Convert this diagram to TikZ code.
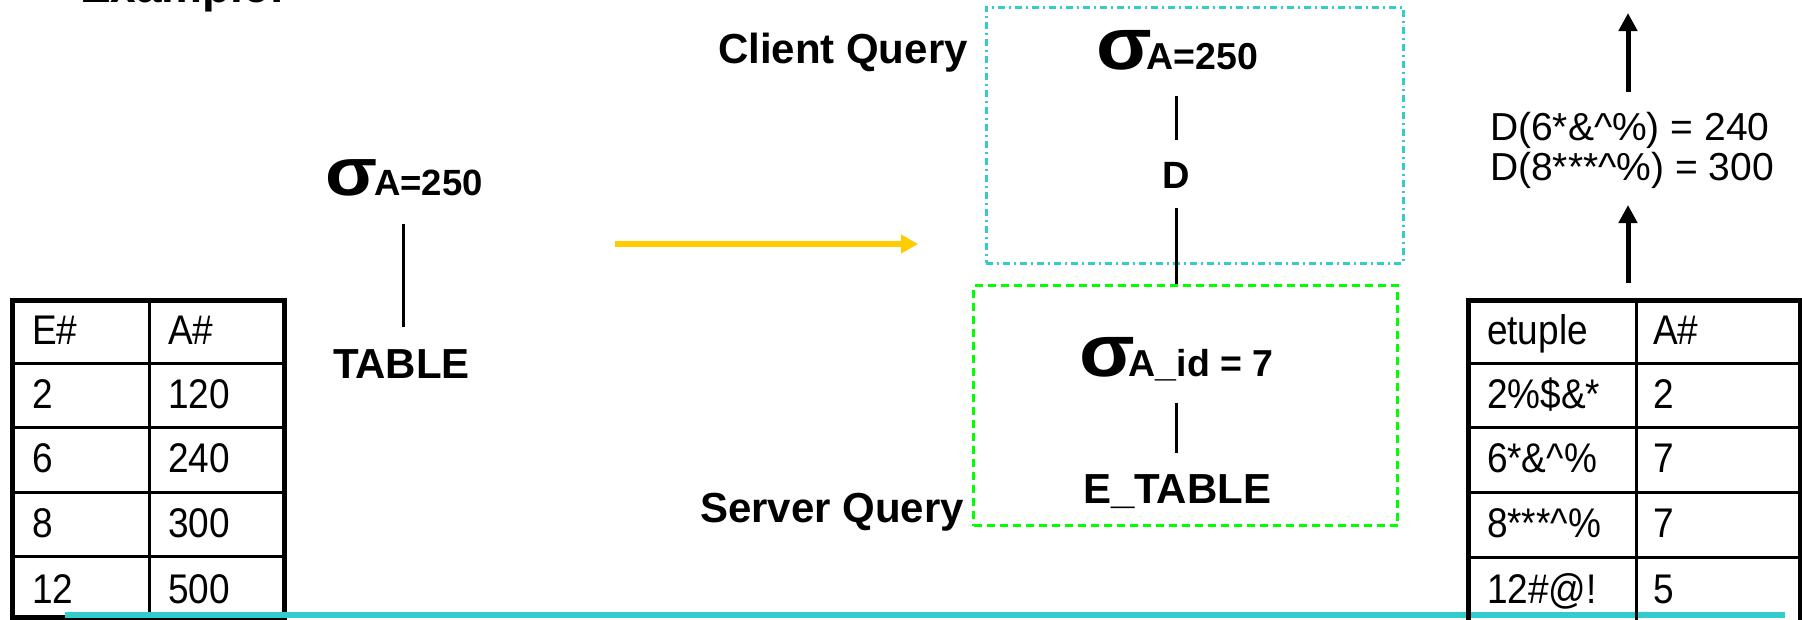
\documentclass[tikz,border=0pt]{standalone}
\usepackage{fontspec}
\usepackage{graphicx}
\setmainfont{Liberation Sans}
\usetikzlibrary{arrows.meta}
\newcommand\fsz[1]{\fontsize{#1}{#1}\selectfont}
\newcommand\tstretch[1]{\scalebox{1}[1.12]{#1}}
\newcommand\bigsig[2]{{\fsz{#1}\scalebox{#2}[1]{σ}}}
\definecolor{tealc}{HTML}{33CCCC}
\definecolor{greenc}{HTML}{00FF00}
\definecolor{yellowc}{HTML}{FFCC00}
\begin{document}
\begin{tikzpicture}[x=1pt,y=-1pt,
  lbl/.style={inner sep=0pt, outer sep=0pt, anchor=base west, font=\bfseries\fsz{42}},
  sig/.style={inner sep=0pt, outer sep=0pt, anchor=base west, font=\bfseries\fsz{37.5}},
  tcell/.style={inner sep=0pt, outer sep=0pt, anchor=base west, font=\fsz{37}},
  dtxt/.style={inner sep=0pt, outer sep=0pt, anchor=base west, font=\fsz{39}},
  conn/.style={draw=black, line width=3pt},
  outerline/.style={draw=black, line width=5pt},
  innerline/.style={draw=black, line width=3pt},
  clibox/.style={draw=tealc, line width=2.5pt, dash pattern=on 7pt off 4pt on 2pt off 4pt, inner sep=0pt, anchor=north west},
  srvbox/.style={draw=greenc, line width=3pt, dash pattern=on 8pt off 5pt, inner sep=0pt, anchor=north west},
  yarrow/.style={draw=yellowc, line width=6pt, -{Triangle[length=17pt,width=18pt]}},
  uarrow/.style={draw=black, line width=5pt, -{Triangle[length=18pt,width=18pt]}}]
\useasboundingbox (0,0) rectangle (1802,619);
\clip (0,0) rectangle (1802,619);

% title (cut off at top)
\node[lbl, font=\bfseries\fsz{46}] (ex) at (80,2) {Example:};

% left table
\draw[innerline] (12,363) -- (284,363);
\draw[innerline] (12,427) -- (284,427);
\draw[innerline] (12,492) -- (284,492);
\draw[innerline] (12,556) -- (284,556);
\draw[innerline] (149,300) -- (149,617);
\draw[outerline] (12,300) rectangle (284,617);
\node[tcell] (l11) at (32,344) {\tstretch{E\#}};
\node[tcell] (l12) at (168,344) {\tstretch{A\#}};
\node[tcell] (l21) at (32,408) {\tstretch{2}};
\node[tcell] (l22) at (168,408) {\tstretch{120}};
\node[tcell] (l31) at (32,472) {\tstretch{6}};
\node[tcell] (l32) at (168,472) {\tstretch{240}};
\node[tcell] (l41) at (32,537) {\tstretch{8}};
\node[tcell] (l42) at (168,537) {\tstretch{300}};
\node[tcell] (l51) at (32,603) {\tstretch{12}};
\node[tcell] (l52) at (168,603) {\tstretch{500}};

% teal bottom rule
\draw[draw=tealc, line width=6pt] (65,615) -- (1785,615);

% left query tree
\node[sig, font=\bfseries\fsz{36.5}] (s0) at (325,195) {\bigsig{68}{1.12}\kern-3pt A=250};
\node[lbl] (tab) at (333,378) {TABLE};
\draw[conn] ([xshift=2pt,yshift=-29pt]s0.base -| tab.north) -- ([xshift=2pt,yshift=51pt]tab.base);

% yellow arrow
\coordinate (ya) at (615,244);
\coordinate (yb) at (918,244);
\draw[yarrow] (ya) -- (yb);

% client / server boxes
\node[clibox, minimum width=417pt, minimum height=256pt] (cli) at (985,6) {};
\node[srvbox, minimum width=424pt, minimum height=240pt] (srv) at (972,284) {};
\node[lbl] (clq) at (718,63) {Client Query};
\node[lbl] (svq) at (700,522) {Server Query};

\node[sig] (s1) at (1096,69) {\bigsig{74}{1.1}\kern-5pt A=250};
\node[lbl, font=\bfseries\fsz{38}, anchor=base] (dd) at (1176,188) {D};
\draw[conn] ([yshift=-27pt]dd.north |- s1.base) -- ([yshift=22pt]dd.north);
\draw[conn] ([yshift=-20pt]dd.base) -- (dd.base |- srv.north);

\node[sig] (s2) at (1079,376) {\bigsig{74}{1.1}\kern-6pt A\_id = 7};
\node[lbl] (etab) at (1083,503) {E\_TABLE};
\draw[conn] ([yshift=-27pt]dd.base |- s2.base) -- ([yshift=21pt]dd.base |- etab.north);

% right side
\node[dtxt] (d1) at (1490,140) {D(6*\&\textasciicircum\%) = 240};
\node[dtxt] (d2) at (1490,180) {D(8***\textasciicircum\%) = 300};
\coordinate (u1a) at (1628,92);
\coordinate (u1b) at (1628,13);
\coordinate (u2a) at (1628,283);
\coordinate (u2b) at (1628,205);
\draw[uarrow] (u1a) -- (u1b);
\draw[uarrow] (u2a) -- (u2b);

% right table
\draw[innerline] (1468,363) -- (1802,363);
\draw[innerline] (1468,427) -- (1802,427);
\draw[innerline] (1468,492) -- (1802,492);
\draw[innerline] (1468,557) -- (1802,557);
\draw[innerline] (1636,300) -- (1636,625);
\draw[outerline] (1468,300) rectangle (1800,630);
\node[tcell] (r11) at (1487,344) {\tstretch{etuple}};
\node[tcell] (r12) at (1653,344) {\tstretch{A\#}};
\node[tcell] (r21) at (1487,408) {\tstretch{2\%\$\&*}};
\node[tcell] (r22) at (1653,408) {\tstretch{2}};
\node[tcell] (r31) at (1487,472) {\tstretch{6*\&\textasciicircum\%}};
\node[tcell] (r32) at (1653,472) {\tstretch{7}};
\node[tcell] (r41) at (1487,537) {\tstretch{8***\textasciicircum\%}};
\node[tcell] (r42) at (1653,537) {\tstretch{7}};
\node[tcell] (r51) at (1487,603) {\tstretch{12\#@!}};
\node[tcell] (r52) at (1653,603) {\tstretch{5}};
\end{tikzpicture}
\end{document}
